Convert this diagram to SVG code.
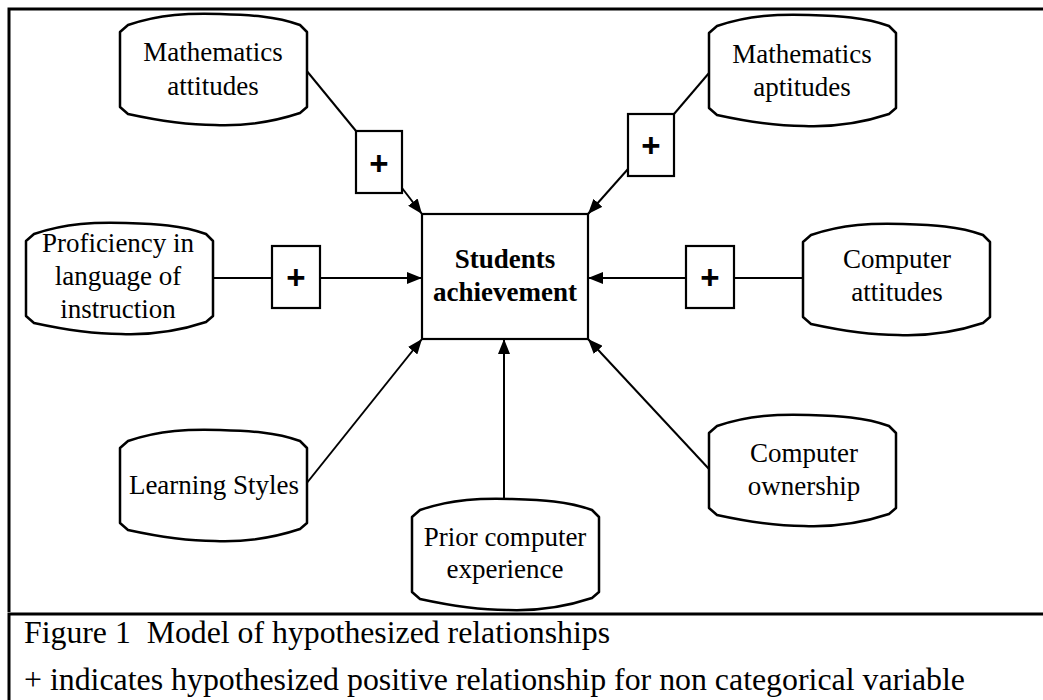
<svg xmlns="http://www.w3.org/2000/svg" xmlns:xlink="http://www.w3.org/1999/xlink" width="1043" height="700" viewBox="0 0 1043 700">
<style>
.frame{fill:none;stroke:#000;stroke-width:3}
.blob{fill:#fff;stroke:#000;stroke-width:2.5;stroke-linejoin:round}
.box{fill:#fff;stroke:#000;stroke-width:2.2}
.lbl{font-family:"Liberation Serif","Times New Roman",serif;font-size:27px;fill:#000;text-anchor:middle}
.bold{font-weight:bold}
.plus{font-family:"Liberation Sans",Arial,sans-serif;font-size:33px;font-weight:bold;fill:#000;text-anchor:middle}
.cap{font-family:"Liberation Serif","Times New Roman",serif;font-size:31px;fill:#000}
.conn line{stroke:#000;stroke-width:2}
</style>
<defs>
<path id="blob" d="M0,19 L8,12 C40,1 70,0 100,1 C130,2 155,3 180,12 L187,19 V94 L180,100 C150,110 120,113 95,112 C65,112 40,108 8,101 L0,94 Z"/>
<marker id="arr" markerUnits="userSpaceOnUse" markerWidth="16" markerHeight="12" refX="15" refY="6" orient="auto">
<path d="M0,0 L15,6 L0,12 Z" fill="#000"/>
</marker>
</defs>
<rect width="1043" height="700" fill="#fff"/>
<g id="frame">
<path class="frame" d="M9,612 V9 H1043"/>
<path class="frame" d="M9,700 V614 H1043"/>
</g>
<g class="conn" id="connectors">
<line x1="306" y1="70" x2="356" y2="131"/>
<line x1="402" y1="188" x2="422" y2="214" marker-end="url(#arr)"/>
<line x1="709" y1="73" x2="674" y2="114"/>
<line x1="628" y1="169" x2="588" y2="214" marker-end="url(#arr)"/>
<line x1="214" y1="278" x2="272" y2="278"/>
<line x1="320" y1="278" x2="422" y2="278" marker-end="url(#arr)"/>
<line x1="803" y1="278" x2="734" y2="278"/>
<line x1="686" y1="278" x2="588" y2="278" marker-end="url(#arr)"/>
<line x1="306" y1="484" x2="422" y2="339" marker-end="url(#arr)"/>
<line x1="504" y1="498" x2="504" y2="339" marker-end="url(#arr)"/>
<line x1="709" y1="469" x2="588" y2="339" marker-end="url(#arr)"/>
</g>
<g id="center">
<rect class="box" x="422" y="214" width="166" height="125"/>
<text class="lbl bold" x="505" y="268">Students</text>
<text class="lbl bold" x="505" y="301">achievement</text>
</g>
<g id="math-attitudes">
<use xlink:href="#blob" class="blob" x="120" y="13"/>
<text class="lbl" x="213" y="61">Mathematics</text>
<text class="lbl" x="213" y="95">attitudes</text>
</g>
<g id="math-aptitudes">
<use xlink:href="#blob" class="blob" x="709" y="14"/>
<text class="lbl" x="802" y="63">Mathematics</text>
<text class="lbl" x="802" y="96">aptitudes</text>
</g>
<g id="proficiency">
<use xlink:href="#blob" class="blob" x="26" y="222"/>
<text class="lbl" x="118" y="252">Proficiency in</text>
<text class="lbl" x="118" y="285">language of</text>
<text class="lbl" x="118" y="318">instruction</text>
</g>
<g id="computer-attitudes">
<use xlink:href="#blob" class="blob" x="803" y="223"/>
<text class="lbl" x="897" y="268">Computer</text>
<text class="lbl" x="897" y="301">attitudes</text>
</g>
<g id="learning-styles">
<use xlink:href="#blob" class="blob" x="120" y="429"/>
<text class="lbl" x="214" y="494">Learning Styles</text>
</g>
<g id="prior-experience">
<use xlink:href="#blob" class="blob" x="412" y="498"/>
<text class="lbl" x="505" y="546">Prior computer</text>
<text class="lbl" x="505" y="578">experience</text>
</g>
<g id="computer-ownership">
<use xlink:href="#blob" class="blob" x="709" y="414"/>
<text class="lbl" x="804" y="462">Computer</text>
<text class="lbl" x="804" y="495">ownership</text>
</g>
<g id="plus1">
<rect class="box" x="356" y="131" width="46" height="62"/>
<text class="plus" x="379" y="175">+</text>
</g>
<g id="plus2">
<rect class="box" x="628" y="114" width="46" height="62"/>
<text class="plus" x="651" y="157">+</text>
</g>
<g id="plus3">
<rect class="box" x="272" y="246" width="48" height="62"/>
<text class="plus" x="296" y="289">+</text>
</g>
<g id="plus4">
<rect class="box" x="686" y="246" width="48" height="62"/>
<text class="plus" x="710" y="289">+</text>
</g>
<g id="caption">
<text class="cap" x="24" y="643" textLength="586" lengthAdjust="spacingAndGlyphs" xml:space="preserve">Figure 1  Model of hypothesized relationships</text>
<text class="cap" x="24" y="690" textLength="941" lengthAdjust="spacingAndGlyphs">+ indicates hypothesized positive relationship for non categorical variable</text>
</g>
</svg>
